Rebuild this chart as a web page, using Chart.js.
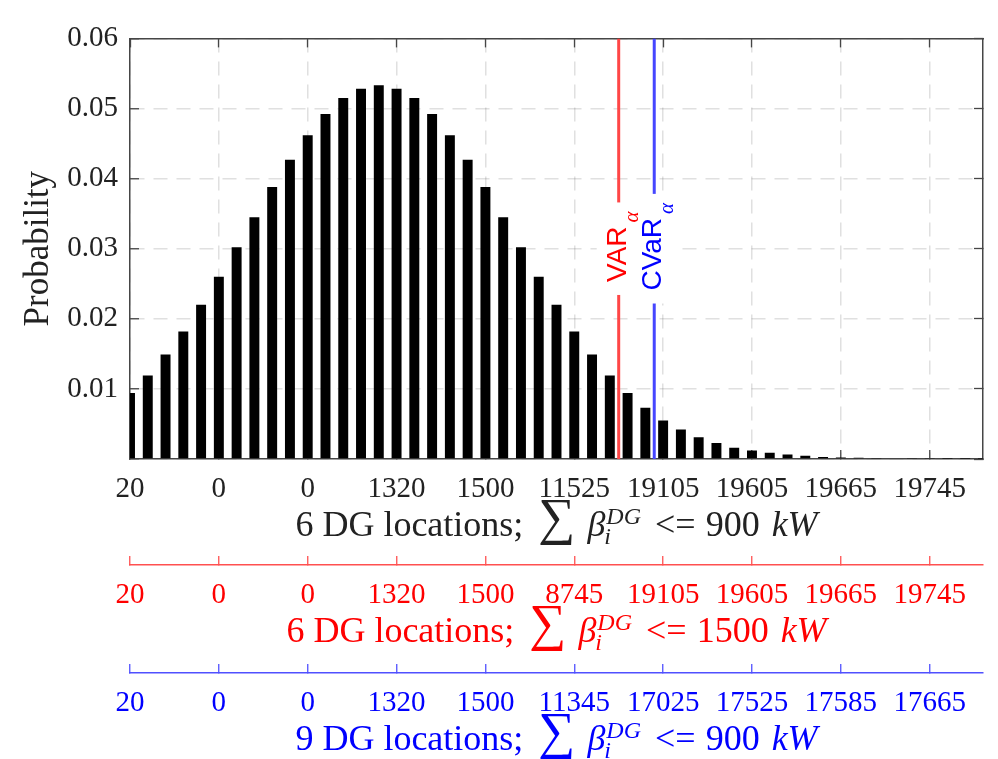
<!DOCTYPE html>
<html>
<head>
<meta charset="utf-8">
<script src="https://cdn.jsdelivr.net/npm/chart.js@4.4.1/dist/chart.umd.min.js"></script>
<style>
  html, body { margin: 0; padding: 0; background: #ffffff; }
  #wrap { width: 998px; height: 759px; }
</style>
</head>
<body>
<div id="wrap"><canvas id="chart" width="998" height="759"></canvas></div>
<script>
// ---------------- data ----------------
const bins = [0,1,2,3,4,5,6,7,8,9,10,11,12,13,14,15,16,17,18,19,20,21,22,23,24,
              25,26,27,28,29,30,31,32,33,34,35,36,37,38,39,40,41,42,43,44,45,46,47,48];
const probability = [0.0094,0.0119,0.0149,0.0182,0.0220,0.0260,0.0302,0.0345,0.0388,0.0427,
                     0.0462,0.0492,0.0515,0.0528,0.0533,0.0528,0.0515,0.0492,0.0462,0.0427,
                     0.0388,0.0345,0.0302,0.0260,0.0220,0.0182,0.0149,0.0119,0.0094,0.0073,
                     0.0055,0.0042,0.0031,0.0023,0.0016,0.0012,0.0009,0.00064,0.00045,0.0003,
                     0.00023,0.00017,0.00013,0.0001,0.00008,0.00006,0.00005,0.00004,0.00003];
const xTickPositions = [0,5,10,15,20,25,30,35,40,45];
const ticksBase = ['20','0','0','1320','1500','11525','19105','19605','19665','19745'];
const ticksRed  = ['20','0','0','1320','1500','8745','19105','19605','19665','19745'];
const ticksBlue = ['20','0','0','1320','1500','11345','17025','17525','17585','17665'];
const yTickValues = [0,0.01,0.02,0.03,0.04,0.05,0.06];
const varPosition = 27.5;
const cvarPosition = 29.5;
const riskLabelLevel = 0.03;
const titleLeads = ['6 DG locations;', '6 DG locations;', '9 DG locations;'];
const titleLimits = ['900', '1500', '900'];
const yTitle = 'Probability';

// ---------------- styles ----------------
const SERIF = '"Liberation Serif", "Times New Roman", serif';
const SANS = '"Liberation Sans", Arial, sans-serif';
Chart.defaults.font.family = SERIF;
const dark = '#222222';
const boxColor = 'rgb(70,70,70)';
const gridGray = 'rgba(38,38,38,0.14)';
const gridDash = [14, 9];
const redText = '#ff0000', redLine = 'rgb(255,80,80)';
const blueText = '#0000ff', blueLine = 'rgb(80,80,255)';

function fixedTicks(values) {
  return s => { s.ticks = values.map(v => ({ value: v })); };
}

function xAxis(labels, textColor, lineColor, weight, height, main) {
  return {
    type: 'linear', position: 'bottom', min: 0, max: 48, weight: weight, offset: false,
    afterBuildTicks: fixedTicks(xTickPositions),
    afterFit: s => { s.height = height; },
    grid: { offset: false, drawOnChartArea: main, color: gridGray, lineWidth: 1.5, tickLength: -9,
            tickColor: lineColor, tickWidth: 1.3, tickBorderDash: [] },
    border: { display: true, color: lineColor, width: main ? 1.5 : 1.4, dash: gridDash },
    ticks: { color: textColor, font: { size: 29 }, padding: 22, maxRotation: 0, autoSkip: false,
             callback: v => { const i = xTickPositions.indexOf(v); return i >= 0 ? labels[i] : ''; } }
  };
}

// ---------------- plugins ----------------
function riskGeometry(ctx, text) {
  ctx.font = '28px ' + SANS;
  const w1 = ctx.measureText(text).width;
  ctx.font = 'italic 21px ' + SERIF;
  const w2 = ctx.measureText('\u03b1').width;
  const gap = 4;
  const total = w1 + gap + w2;
  return { w1, gap, total, start: -total / 2 };
}

function drawRiskBox(ctx, px, py, text) {
  const g = riskGeometry(ctx, text);
  ctx.save();
  ctx.translate(px, py);
  ctx.rotate(-Math.PI / 2);
  const pad = 11;
  ctx.fillStyle = '#ffffff';
  ctx.fillRect(g.start - pad, -22, g.total + 2 * pad, 44);
  ctx.restore();
}

function drawRiskText(ctx, px, py, text, color) {
  const g = riskGeometry(ctx, text);
  ctx.save();
  ctx.translate(px, py);
  ctx.rotate(-Math.PI / 2);
  ctx.fillStyle = color;
  ctx.textAlign = 'left';
  ctx.textBaseline = 'alphabetic';
  ctx.font = '28px ' + SANS;
  ctx.fillText(text, g.start + 2, 7);
  ctx.font = 'italic 21px ' + SERIF;
  ctx.fillText('\u03b1', g.start + 2 + g.w1 + g.gap, 19);
  ctx.restore();
}

const riskLabels = {
  id: 'riskLabels',
  afterDatasetsDraw(chart) {
    const { ctx, scales } = chart;
    const py = scales.y.getPixelForValue(riskLabelLevel);
    const pv = scales.x.getPixelForValue(varPosition);
    const pc = scales.x.getPixelForValue(cvarPosition);
    drawRiskBox(ctx, pv, py, 'VAR');
    drawRiskBox(ctx, pc, py, 'CVaR');
    drawRiskText(ctx, pv, py, 'VAR', redText);
    drawRiskText(ctx, pc, py, 'CVaR', blueText);
  }
};

function titleSegments(lead, limit) {
  const S = 36;
  return [
    { t: lead, f: S + 'px ' + SERIF, gap: 15 },
    { t: '\u2211', f: '52px ' + SERIF, dy: -2, gap: 12 },
    { t: '\u03b2', f: 'italic ' + S + 'px ' + SERIF, gap: 1 },
    { sup: 'DG', sub: 'i', f: 'italic 24px ' + SERIF, supDy: -12, subDy: 8, gap: 14 },
    { t: '<=', f: S + 'px ' + SERIF, gap: 10 },
    { t: limit, f: S + 'px ' + SERIF, gap: 12 },
    { t: 'kW', f: 'italic ' + S + 'px ' + SERIF, gap: 0 }
  ];
}

function drawRich(ctx, segs, cx, baseY, color) {
  const items = segs.map(p => {
    ctx.font = p.f;
    const w = p.sup !== undefined
      ? Math.max(ctx.measureText(p.sup).width, ctx.measureText(p.sub).width)
      : ctx.measureText(p.t).width;
    return Object.assign({}, p, { w: w });
  });
  const total = items.reduce((a, b, i) => a + b.w + (i < items.length - 1 ? b.gap : 0), 0);
  let x = cx - total / 2;
  ctx.save();
  ctx.fillStyle = color;
  ctx.textAlign = 'left';
  ctx.textBaseline = 'alphabetic';
  for (const it of items) {
    ctx.font = it.f;
    if (it.sup !== undefined) {
      ctx.fillText(it.sup, x, baseY + it.supDy);
      ctx.fillText(it.sub, x - 2, baseY + it.subDy);
    } else {
      ctx.fillText(it.t, x, baseY + (it.dy || 0));
    }
    x += it.w + it.gap;
  }
  ctx.restore();
}

const axisTitles = {
  id: 'axisTitles',
  afterDraw(chart) {
    const { ctx, chartArea, scales } = chart;
    const cx = (chartArea.left + chartArea.right) / 2;
    const ids = ['x', 'x2', 'x3'];
    const colors = [dark, redText, blueText];
    ids.forEach((id, i) => {
      drawRich(ctx, titleSegments(titleLeads[i], titleLimits[i]), cx, scales[id].top + 77, colors[i]);
    });
  }
};

// ---------------- chart ----------------
new Chart(document.getElementById('chart'), {
  type: 'bar',
  data: {
    datasets: [
      { type: 'bar', data: bins.map((b, i) => ({ x: b, y: probability[i] })),
        backgroundColor: '#000000', borderWidth: 0, barPercentage: 0.56, categoryPercentage: 1,
        xAxisID: 'x', yAxisID: 'y', order: 1 },
      { type: 'line', data: [{ x: varPosition, y: 0 }, { x: varPosition, y: 0.06 }],
        borderColor: 'rgb(255,70,70)', borderWidth: 3, pointRadius: 0, xAxisID: 'x', yAxisID: 'y', order: 0 },
      { type: 'line', data: [{ x: cvarPosition, y: 0 }, { x: cvarPosition, y: 0.06 }],
        borderColor: 'rgb(70,70,255)', borderWidth: 3, pointRadius: 0, xAxisID: 'x', yAxisID: 'y', order: 0 }
    ]
  },
  options: {
    responsive: false,
    animation: false,
    devicePixelRatio: 1,
    layout: { padding: { top: 19, right: 15, bottom: 0, left: 0 } },
    plugins: { legend: { display: false }, tooltip: { enabled: false } },
    scales: {
      x: xAxis(ticksBase, dark, boxColor, 0, 106, true),
      x2: xAxis(ticksRed, redText, redLine, 1, 108, false),
      x3: xAxis(ticksBlue, blueText, blueLine, 2, 86, false),
      xTop: {
        type: 'linear', position: 'top', min: 0, max: 48, offset: false,
        afterBuildTicks: fixedTicks(xTickPositions),
        afterFit: s => { s.height = 0; },
        grid: { offset: false, drawOnChartArea: false, tickLength: -9, tickColor: boxColor, tickWidth: 1.3 },
        border: { color: boxColor, width: 1.5 },
        ticks: { display: false }
      },
      y: {
        type: 'linear', position: 'left', min: 0, max: 0.06,
        afterBuildTicks: fixedTicks(yTickValues),
        afterFit: s => { s.width = 130; },
        grid: { color: gridGray, lineWidth: 1.5, tickLength: -9, tickColor: boxColor, tickWidth: 1.3, tickBorderDash: [] },
        border: { color: boxColor, width: 1.5, dash: gridDash },
        ticks: { color: dark, font: { size: 29 }, padding: 21,
                 callback: v => (v === 0 ? '' : v.toFixed(2)) },
        title: { display: true, text: yTitle, color: dark, font: { size: 35 }, padding: { top: 18, bottom: 0 } }
      },
      yRight: {
        type: 'linear', position: 'right', min: 0, max: 0.06,
        afterBuildTicks: fixedTicks(yTickValues),
        afterFit: s => { s.width = 0; },
        grid: { drawOnChartArea: false, tickLength: -9, tickColor: boxColor, tickWidth: 1.3 },
        border: { color: boxColor, width: 1.5 },
        ticks: { display: false }
      }
    }
  },
  plugins: [riskLabels, axisTitles]
});
</script>
</body>
</html>
